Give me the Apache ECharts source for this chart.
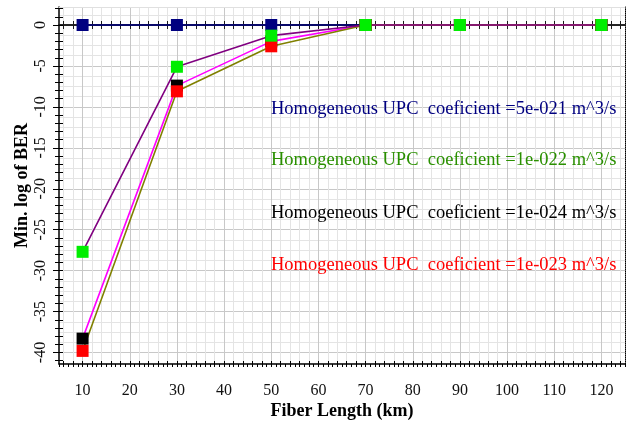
<!DOCTYPE html>
<html><head><meta charset="utf-8">
<script src="https://cdn.jsdelivr.net/npm/echarts@6/dist/echarts.min.js"></script>
<style>html,body{margin:0;padding:0;background:#fff}#c{width:630px;height:424px}</style>
</head><body><div id="c"></div>
<script>
// ---- data ----
const fiberLength = [10, 30, 50, 70, 90, 120];
const ber5e21 = [0, 0, 0, 0, 0, 0];
const ber1e24 = [-38.3, -7.4, -2.0, 0, 0, 0];
const ber1e23 = [-39.8, -8.1, -2.6, 0, 0, 0];
const ber1e22 = [-27.7, -5.1, -1.3, 0, 0, 0];
const xTickLabels = [10, 20, 30, 40, 50, 60, 70, 80, 90, 100, 110, 120];
const yTickLabels = [-40, -35, -30, -25, -20, -15, -10, -5, 0];
const annotationTexts = [
  'Homogeneous UPC  coeficient =5e-021 m^3/s',
  'Homogeneous UPC  coeficient =1e-022 m^3/s',
  'Homogeneous UPC  coeficient =1e-024 m^3/s',
  'Homogeneous UPC  coeficient =1e-023 m^3/s'
];

function range(a, b, s) { const r = []; for (let v = a; v <= b + 1e-9; v += s) r.push(+v.toFixed(4)); return r; }

const FONT = '"Liberation Serif", "DejaVu Serif", serif';
const XMIN = 5, XMAX = 125, YMIN = -41.4, YMAX = 2.2;

const off = { show: false };
function xHidden(extra) {
  return Object.assign({ type: 'value', position: 'bottom', min: XMIN, max: XMAX,
    axisLine: { show: false, onZero: false }, axisTick: { show: false }, axisLabel: off, splitLine: off }, extra);
}
function yHidden(extra) {
  return Object.assign({ type: 'value', position: 'left', min: YMIN, max: YMAX,
    axisLine: { show: false, onZero: false }, axisTick: { show: false }, axisLabel: off, splitLine: off }, extra);
}

const chart = echarts.init(document.getElementById('c'), null, { renderer: 'canvas' });

function mkSeries(name, vals, markerColor, lineColor) {
  return {
    name, type: 'line', xAxisIndex: 0, yAxisIndex: 0,
    data: fiberLength.map((x, i) => [x, vals[i]]),
    symbol: 'rect', symbolSize: 12, showAllSymbol: true,
    itemStyle: { color: markerColor },
    lineStyle: { color: lineColor, width: 1.6 },
    emphasis: { disabled: true }, animation: false
  };
}

chart.setOption({
  animation: false,
  backgroundColor: '#fff',
  grid: { left: 59, right: 5, top: 7, bottom: 60, containLabel: false, outerBoundsMode: 'none' },
  xAxis: [
    { type: 'value', position: 'bottom', min: XMIN, max: XMAX,
      axisLine: { onZero: false, lineStyle: { color: '#000', width: 1.5 } },
      axisTick: { customValues: range(5, 125, 1), length: 3, lineStyle: { color: '#000' } },
      axisLabel: { customValues: xTickLabels, margin: 19, color: '#111', fontFamily: FONT, fontSize: 16 },
      splitLine: off,
      name: 'Fiber Length (km)', nameLocation: 'middle', nameGap: 38, nameMoveOverlap: false,
      nameTextStyle: { fontFamily: FONT, fontWeight: 'bold', fontSize: 18, color: '#000' } },
    xHidden({ axisLine: { show: false, onZero: false }, axisTick: { show: true, inside: true, customValues: range(6, 124, 2), length: 3, lineStyle: { color: '#000' } } }),
    xHidden({ axisTick: { show: false, customValues: range(6, 124, 2) }, splitLine: { show: true, lineStyle: { color: '#e4e4e4', width: 1 } } }),
    xHidden({ axisTick: { show: false, customValues: xTickLabels }, splitLine: { show: true, lineStyle: { color: '#c8c8c8', width: 1 } } }),
    xHidden({ axisLine: { show: true, onZero: true, onZeroAxisIndex: 0, lineStyle: { color: '#1a1a1a', width: 1.5 } },
      axisTick: { show: true, customValues: range(6, 124, 2), length: 4, lineStyle: { color: '#1a1a1a' } } }),
    xHidden({ axisLine: { show: true, onZero: true, onZeroAxisIndex: 1, lineStyle: { color: '#1a1a1a', width: 1.5 } },
      axisTick: { show: true, inside: true, customValues: range(6, 124, 2), length: 4, lineStyle: { color: '#1a1a1a' } } }),
    xHidden({ position: 'top', axisLine: { show: true, onZero: false, lineStyle: { color: '#e0e0e0', width: 1 } } })
  ],
  yAxis: [
    { type: 'value', position: 'left', min: YMIN, max: YMAX,
      axisLine: { onZero: false, lineStyle: { color: '#000', width: 1.5 } },
      axisTick: { customValues: range(-41, 2, 1), length: 4, lineStyle: { color: '#000' } },
      axisLabel: { customValues: yTickLabels, rotate: 90, margin: 10, color: '#111', fontFamily: FONT, fontSize: 16 },
      splitLine: off,
      name: 'Min. log of BER', nameLocation: 'middle', nameGap: 28, nameMoveOverlap: false,
      nameTextStyle: { fontFamily: FONT, fontWeight: 'bold', fontSize: 18, color: '#000' } },
    yHidden({ axisTick: { show: true, inside: true, customValues: range(-41, 2, 1), length: 4, lineStyle: { color: '#000' } } }),
    yHidden({ axisTick: { show: false, customValues: range(-41.25, 2.2, 1.25) }, splitLine: { show: true, lineStyle: { color: '#e4e4e4', width: 1 } } }),
    yHidden({ axisTick: { show: true, customValues: yTickLabels, length: 6, lineStyle: { color: '#000' } }, splitLine: { show: true, lineStyle: { color: '#c8c8c8', width: 1 } } }),
    yHidden({ position: 'right', axisLine: { show: true, onZero: false, lineStyle: { color: '#000', width: 1, type: 'dotted' } } })
  ],
  series: [
    mkSeries('5e-021', ber5e21, '#000080', '#000080'),
    mkSeries('1e-024', ber1e24, '#000000', '#ff00ff'),
    mkSeries('1e-023', ber1e23, '#ff0000', '#808000'),
    mkSeries('1e-022', ber1e22, '#00ee00', '#800080')
  ],
  graphic: annotationTexts.map((t, i) => ({
    type: 'text', x: 271, y: [109, 160, 213, 265][i], z: 50,
    style: { text: t, fill: ['#000080', '#2a9000', '#000000', '#ff0000'][i],
      fontFamily: FONT, fontSize: 18.5, verticalAlign: 'middle' }
  }))
});
</script></body></html>
